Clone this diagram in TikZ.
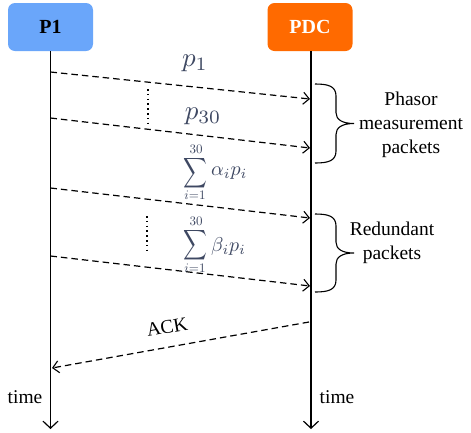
\documentclass[tikz,border=0pt]{standalone}
\usepackage{graphicx}
\usepackage{fontspec}
\setmainfont{Liberation Serif}
\usetikzlibrary{arrows.meta}
\definecolor{poneblue}{RGB}{106,166,250}
\definecolor{pdcorange}{RGB}{255,106,0}
\definecolor{mathink}{RGB}{62,72,98}
% curly bracket opening to the left: #1 = x of the ends, #2 = top y, #3 = bottom y
\newcommand\packetbrace[3]{%
  \draw[bracketline] (#1,#2) .. controls ({#1+13},#2) and ({#1+21},{#2+2}) .. ({#1+21},{#2+12})
    -- ({#1+21},{(#2+#3)/2-11}) .. controls ({#1+21},{(#2+#3)/2-4}) and ({#1+27},{(#2+#3)/2}) .. ({#1+39},{(#2+#3)/2})
    .. controls ({#1+27},{(#2+#3)/2}) and ({#1+21},{(#2+#3)/2+4}) .. ({#1+21},{(#2+#3)/2+11})
    -- ({#1+21},{#3-12}) .. controls ({#1+21},{#3-2}) and ({#1+13},#3) .. (#1,#3);}
% enlarged math for the packet labels
\newcommand\pktmath[2]{\scalebox{#1}{$#2$}}
\newcommand\pktsigma{\scalebox{1.65}[2.1]{$\displaystyle\sum$}}
\begin{document}
\begin{tikzpicture}[x=1pt,y=-1pt,
  actor/.style={rounded corners=7pt, minimum width=85pt, minimum height=48pt,
    inner sep=0pt, font=\fontsize{20}{22}\selectfont\bfseries},
  lifeline/.style={line width=1.3pt, -{Straight Barb[length=7pt,width=15pt,line width=1.2pt]}},
  msg/.style={line width=1.2pt, dash pattern=on 6.5pt off 4pt,
    -{Straight Barb[length=6pt,width=12pt,line width=1.1pt]}},
  dotsline/.style={line width=2pt, dash pattern=on 1.6pt off 3.2pt},
  bracketline/.style={line width=1.1pt},
  caption/.style={font=\fontsize{19.5}{24}\selectfont, align=center, inner sep=0pt},
  mathlabel/.style={text=mathink, inner sep=0pt},
]
\useasboundingbox (0,0) rectangle (471,432);

% actors
\node[actor, fill=poneblue, text=black] (p1) at (50.5,27) {P1};
\node[actor, fill=pdcorange, text=white] (pdc) at (310,27) {PDC};

% lifelines
\coordinate (p1end) at (50.5,429);
\coordinate (pdcend) at (311,429);
\draw[lifeline] (p1.south -| p1end) -- (p1end);
\draw[lifeline] (pdc.south -| pdcend) -- (pdcend);

% message end points
\coordinate (a1) at (50.5,72);   \coordinate (b1) at (310,99);
\coordinate (a2) at (50.5,118);  \coordinate (b2) at (310,148);
\coordinate (a3) at (50.5,188);  \coordinate (b3) at (310,218);
\coordinate (a4) at (50.5,256);  \coordinate (b4) at (310,286);
\coordinate (ackstart) at (309,322); \coordinate (ackend) at (52,368);

\draw[msg] (a1) -- (b1);
\draw[msg] (a2) -- (b2);
\draw[msg] (a3) -- (b3);
\draw[msg] (a4) -- (b4);
\draw[msg] (ackstart) -- (ackend);

% vertical ellipses between packets
\coordinate (d1t) at (148,89);  \coordinate (d1b) at (148,124);
\coordinate (d2t) at (147,216); \coordinate (d2b) at (147,251);
\draw[dotsline] (d1t) -- (d1b);
\draw[dotsline] (d2t) -- (d2b);

% packet labels
\node[mathlabel] (lp1) at (195,63) {\pktmath{2.7}{p_1}};
\node[mathlabel] (lp30) at (203,116) {\pktmath{2.7}{p_{30}}};

% first redundant packet: sum of alpha_i p_i
\node[mathlabel] (sa) at (195,173) {\pktsigma};
\node[mathlabel] (saup) at (196,149) {\pktmath{1.3}{30}};
\node[mathlabel] (salow) at (195,195) {\pktmath{1.3}{i{=}1}};
\node[mathlabel, anchor=west] (saterm) at (211,173) {\pktmath{2}{\alpha_i p_i}};

% last redundant packet: sum of beta_i p_i
\node[mathlabel] (sb) at (195,245) {\pktsigma};
\node[mathlabel] (sbup) at (196,221) {\pktmath{1.3}{30}};
\node[mathlabel] (sblow) at (195,268) {\pktmath{1.3}{i{=}1}};
\node[mathlabel, anchor=west] (sbterm) at (211,246) {\pktmath{2}{\beta_i p_i}};

\node[font=\fontsize{19.5}{22}\selectfont, rotate=10, inner sep=0pt] (lack) at (167,327) {ACK};

% braces and their captions
\packetbrace{315}{84}{163}
\packetbrace{315}{214}{292}
\node[caption] (cap1) at (411,125) {Phasor\\measurement\\packets};
\node[caption] (cap2) at (392,243) {Redundant\\packets};

% time axes
\node[caption] (t1) at (25,397) {time};
\node[caption] (t2) at (337,397) {time};
\end{tikzpicture}
\end{document}
